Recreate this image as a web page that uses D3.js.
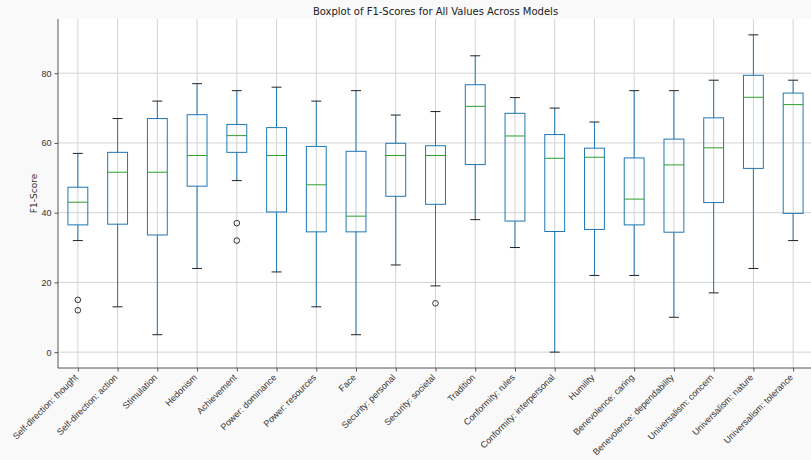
<!DOCTYPE html>
<html>
<head>
<meta charset="utf-8">
<script src="https://cdn.jsdelivr.net/npm/d3@7"></script>
<style>
  body { margin: 0; background: #f9f9f9; }
  svg { display: block; font-family: "DejaVu Sans", sans-serif; }
  .axis text { fill: #333; font-size: 9px; }
  .axis path, .axis line { stroke: #555; }
</style>
</head>
<body>
<div id="chart"></div>
<script>
// categories (x)
const labels = [
  "Self-direction: thought", "Self-direction: action", "Stimulation", "Hedonism",
  "Achievement", "Power: dominance", "Power: resources", "Face",
  "Security: personal", "Security: societal", "Tradition", "Conformity: rules",
  "Conformity: interpersonal", "Humility", "Benevolence: caring",
  "Benevolence: dependability", "Universalism: concern", "Universalism: nature",
  "Universalism: tolerance"
];
// box stats
const whiskLo = [32, 13, 5, 24, 49.2, 23, 13, 5, 25, 19, 38, 30, 0, 22, 22, 10, 17, 24, 32];
const q1      = [36.5, 36.7, 33.6, 47.6, 57.3, 40.2, 34.5, 34.5, 44.7, 42.4, 53.8, 37.6, 34.6, 35.2, 36.5, 34.4, 42.9, 52.7, 39.8];
const medians = [43, 51.6, 51.6, 56.4, 62.1, 56.4, 48, 39, 56.4, 56.4, 70.5, 62, 55.6, 55.9, 43.9, 53.7, 58.6, 73.1, 71];
const q3      = [47.3, 57.3, 67, 68.1, 65.3, 64.4, 59, 57.6, 59.9, 59.2, 76.7, 68.5, 62.4, 58.5, 55.7, 61.1, 67.2, 79.4, 74.3];
const whiskHi = [57, 67, 72, 77, 75, 76, 72, 75, 68, 69, 85, 73, 70, 66, 75, 75, 78, 91, 78];
const outliers = [[15, 12], [], [], [], [37, 32], [], [], [], [], [14], [], [], [], [], [], [], [], [], []];
const yTicks = [0, 20, 40, 60, 80];

const color = { box: "#1f77b4", median: "#2ca02c", cap: "#222", grid: "#d3d3d3" };

const totalWidth = 811, totalHeight = 460;
const margin = { top: 19, left: 58, bottom: 92, right: 0 };
// plot extends a couple of px past the window edge, like the reference
const width = 755;
const height = totalHeight - margin.top - margin.bottom;

const svg = d3.select("#chart").append("svg")
  .attr("width", totalWidth)
  .attr("height", totalHeight);

svg.append("text")
  .attr("x", margin.left + width / 2)
  .attr("y", 15)
  .attr("text-anchor", "middle")
  .attr("font-size", 10)
  .attr("fill", "#222")
  .text("Boxplot of F1-Scores for All Values Across Models");

const g = svg.append("g")
  .attr("transform", `translate(${margin.left}, ${margin.top})`);

g.append("rect")
  .attr("width", width)
  .attr("height", height)
  .attr("fill", "white");

const xScale = d3.scaleLinear().domain([0.5, labels.length + 0.5]).range([0, width]);
const yScale = d3.scaleLinear().domain([-4.55, 95.55]).range([height, 0]);

// grid
g.append("g").selectAll("line")
  .data(labels)
  .join("line")
  .attr("x1", (d, i) => xScale(i + 1))
  .attr("x2", (d, i) => xScale(i + 1))
  .attr("y1", 0).attr("y2", height)
  .attr("stroke", color.grid);
g.append("g").selectAll("line")
  .data(yTicks)
  .join("line")
  .attr("x1", 0).attr("x2", width)
  .attr("y1", d => yScale(d)).attr("y2", d => yScale(d))
  .attr("stroke", color.grid);

// y axis
const yAxis = d3.axisLeft(yScale).tickValues(yTicks).tickSize(3.5).tickPadding(3);
const yAxisGroup = g.append("g").attr("class", "axis").call(yAxis);
yAxisGroup.select(".domain").attr("d", `M0,0V${height}`);
svg.append("text")
  .attr("transform", `translate(37, ${margin.top + height / 2}) rotate(-90)`)
  .attr("text-anchor", "middle")
  .attr("font-size", 9)
  .attr("fill", "#333")
  .text("F1-Score");

// x axis
const xAxis = d3.axisBottom(xScale)
  .tickValues(d3.range(1, labels.length + 1))
  .tickFormat(d => labels[d - 1])
  .tickSize(3.5);
const xAxisGroup = g.append("g")
  .attr("class", "axis")
  .attr("transform", `translate(0, ${height})`)
  .call(xAxis);
xAxisGroup.select(".domain").attr("d", `M0,0H${width}`);
xAxisGroup.selectAll(".tick text")
  .attr("text-anchor", "end")
  .attr("font-size", 9.6)
  .attr("y", 0)
  .attr("dy", 0)
  .attr("transform", "translate(0, 10) rotate(-45)");

// boxes
const boxW = xScale(1.25) - xScale(1);
const capW = boxW / 2;
const boxes = g.append("g").selectAll("g")
  .data(labels)
  .join("g")
  .attr("transform", (d, i) => `translate(${xScale(i + 1)}, 0)`);

boxes.append("line")
  .attr("y1", (d, i) => yScale(whiskHi[i]))
  .attr("y2", (d, i) => yScale(q3[i]))
  .attr("stroke", color.box);
boxes.append("line")
  .attr("y1", (d, i) => yScale(q1[i]))
  .attr("y2", (d, i) => yScale(whiskLo[i]))
  .attr("stroke", color.box);
boxes.append("line")
  .attr("x1", -capW).attr("x2", capW)
  .attr("y1", (d, i) => yScale(whiskHi[i]))
  .attr("y2", (d, i) => yScale(whiskHi[i]))
  .attr("stroke", color.cap);
boxes.append("line")
  .attr("x1", -capW).attr("x2", capW)
  .attr("y1", (d, i) => yScale(whiskLo[i]))
  .attr("y2", (d, i) => yScale(whiskLo[i]))
  .attr("stroke", color.cap);
boxes.append("rect")
  .attr("x", -boxW)
  .attr("width", boxW * 2)
  .attr("y", (d, i) => yScale(q3[i]))
  .attr("height", (d, i) => yScale(q1[i]) - yScale(q3[i]))
  .attr("fill", "none")
  .attr("stroke", color.box);
boxes.append("line")
  .attr("x1", -boxW).attr("x2", boxW)
  .attr("y1", (d, i) => yScale(medians[i]))
  .attr("y2", (d, i) => yScale(medians[i]))
  .attr("stroke", color.median);
boxes.selectAll("circle")
  .data((d, i) => outliers[i])
  .join("circle")
  .attr("cy", d => yScale(d))
  .attr("r", 2.8)
  .attr("fill", "none")
  .attr("stroke", "#333");
</script>
</body>
</html>
